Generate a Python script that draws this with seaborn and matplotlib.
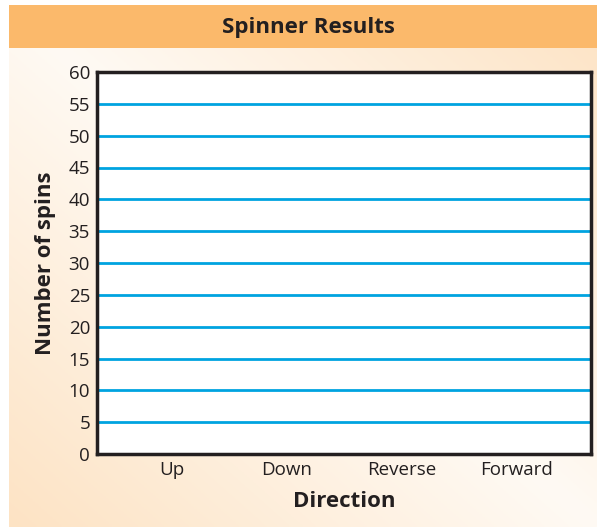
import numpy as np
import pandas as pd
import matplotlib
matplotlib.use("Agg")
import matplotlib.pyplot as plt
import seaborn as sns
from matplotlib.colors import LinearSegmentedColormap

# ---- data ----
directions = ["Up", "Down", "Reverse", "Forward"]
spins = [0, 0, 0, 0]          # blank chart: no results recorded
y_ticks = [0, 5, 10, 15, 20, 25, 30, 35, 40, 45, 50, 55, 60]
title_text = "Spinner Results"
x_label = "Direction"
y_label = "Number of spins"

sns.set_theme(style="white")
plt.rcParams['font.family'] = ['Open Sans', 'DejaVu Sans']
TXT = "#231F20"

W, H = 597, 527
fig = plt.figure(figsize=(W / 100, H / 100), dpi=100)
fig.patch.set_facecolor("white")

# panel background with diagonal gradient
panel_left, panel_top = 9 / W, 5 / H
bg = fig.add_axes([panel_left, 0, 1 - panel_left, 1 - panel_top], zorder=0)
nx, ny = 200, 200
u = np.linspace(0, 1, nx)[None, :]
v = np.linspace(0, 1, ny)[:, None]
t = np.abs(u - v)
cmap = LinearSegmentedColormap.from_list("peach", ["#FFFAF4", "#FDE3C4"])
bg.imshow(t, cmap=cmap, aspect="auto", extent=[0, 1, 1, 0], vmin=0, vmax=1)
bg.set_xlim(0, 1)
bg.set_ylim(1, 0)
bg.axis("off")

# title banner
banner_h = 43 / H
fig.patches.append(plt.Rectangle((panel_left, 1 - panel_top - banner_h), 1 - panel_left, banner_h,
                                 transform=fig.transFigure, facecolor="#FBB96B",
                                 edgecolor="none", zorder=1))
fig.text(308 / W, 1 - (28 / H), title_text, ha="center", va="center",
         fontsize=16, fontweight="bold", color=TXT, zorder=2)

# main axes
ax = fig.add_axes([97 / W, 1 - 454 / H, (591 - 97) / W, (454 - 72) / H], zorder=3)
df = pd.DataFrame({"Direction": directions, "Spins": spins})
sns.barplot(data=df, x="Direction", y="Spins", order=directions, color="#00A3E0", ax=ax)
ax.set_facecolor("white")
ax.set_ylim(0, 60)
ax.set_xlim(-0.652, 3.652)
ax.set_yticks(y_ticks)
ax.set_yticklabels([str(v) for v in y_ticks])
for yv in y_ticks[1:-1]:
    ax.axhline(yv, color="#00A3E0", lw=2, zorder=0.5)
ax.grid(False)
for s in ax.spines.values():
    s.set_visible(True)
    s.set_color("#231F20")
    s.set_linewidth(2.5)
ax.tick_params(axis="both", length=0, labelsize=13.5, labelcolor=TXT)
ax.tick_params(axis="y", pad=5)
ax.tick_params(axis="x", pad=5)
ax.set_xlabel(x_label, fontsize=16, fontweight="bold", color=TXT, labelpad=9)
ax.set_ylabel(y_label, fontsize=16, fontweight="bold", color=TXT, labelpad=9)

fig.savefig("out.png", dpi=100)
